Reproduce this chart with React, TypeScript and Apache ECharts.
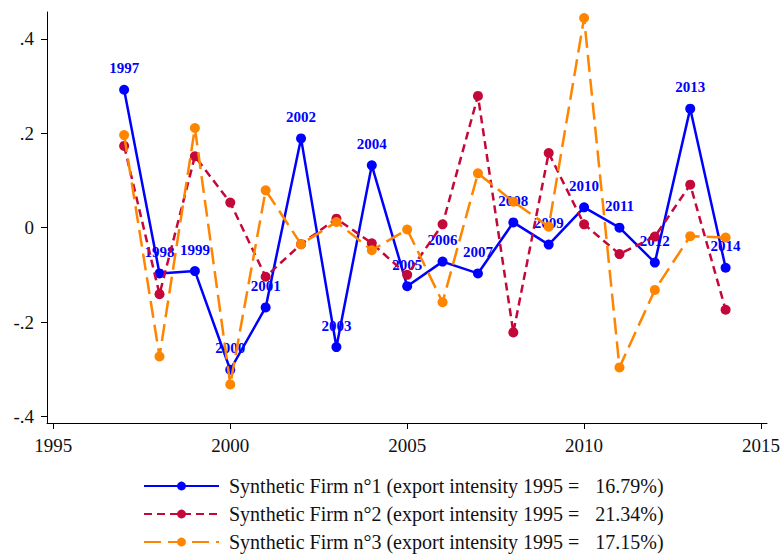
import React, { useEffect, useRef } from 'react';
import * as echarts from 'echarts';

// Yearly growth of export intensity for three synthetic firms
const years = [1997, 1998, 1999, 2000, 2001, 2002, 2003, 2004, 2005, 2006, 2007, 2008, 2009, 2010, 2011, 2012, 2013, 2014];
const firm1 = [0.292, -0.097, -0.092, -0.301, -0.169, 0.189, -0.253, 0.132, -0.124, -0.072, -0.097, 0.011, -0.036, 0.043, 0.0, -0.074, 0.252, -0.085];
const firm2 = [0.173, -0.141, 0.151, 0.053, -0.104, -0.035, 0.019, -0.033, -0.1, 0.007, 0.279, -0.222, 0.158, 0.007, -0.056, -0.019, 0.091, -0.174];
const firm3 = [0.196, -0.273, 0.211, -0.332, 0.079, -0.035, 0.012, -0.048, -0.004, -0.158, 0.115, 0.055, 0.002, 0.444, -0.296, -0.132, -0.018, -0.021];

const firmNames = ['Synthetic Firm n°1', 'Synthetic Firm n°2', 'Synthetic Firm n°3'];
const intensity1995 = ['16.79', '21.34', '17.15'];

const xTicks = [1995, 2000, 2005, 2010, 2015];
const yTicks = [-0.4, -0.2, 0, 0.2, 0.4];

const SERIF = 'Liberation Serif';
const BLUE = '#0000ff';
const CRIMSON = '#c4083a';
const ORANGE = '#ff8400';

function fmtY(v: number): string {
  if (Math.abs(v) < 1e-9) return '0';
  const s = Math.abs(v).toFixed(1).replace(/^0/, '');
  return (v < 0 ? '-' : '') + s;
}

export default function App() {
  const ref = useRef<HTMLDivElement>(null);

  useEffect(() => {
    if (!ref.current) return;
    const chart = echarts.init(ref.current, null, { renderer: 'svg' });

    const pair = (vals: number[]) => years.map((y, i) => [y, vals[i]]);

    chart.setOption({
      animation: false,
      backgroundColor: '#ffffff',
      grid: { left: 47, right: 13, top: 12, bottom: 132 },
      xAxis: {
        type: 'value',
        min: 1994.82,
        max: 2015.17,
        axisLine: { show: true, onZero: false, lineStyle: { color: '#000', width: 1 } },
        axisTick: { show: true, length: 6, customValues: xTicks, lineStyle: { color: '#000' } },
        axisLabel: {
          customValues: xTicks,
          margin: 13,
          color: '#111',
          fontFamily: SERIF,
          fontSize: 19,
          formatter: (v: number) => String(Math.round(v)),
        },
        splitLine: { show: false },
      },
      yAxis: {
        type: 'value',
        min: -0.4138,
        max: 0.4567,
        axisLine: { show: true, onZero: false, lineStyle: { color: '#000', width: 1 } },
        axisTick: { show: true, length: 6, customValues: yTicks, lineStyle: { color: '#000' } },
        axisLabel: {
          customValues: yTicks,
          margin: 13,
          color: '#111',
          fontFamily: SERIF,
          fontSize: 19,
          formatter: (v: number) => fmtY(v),
        },
        splitLine: { show: false },
      },
      legend: {
        orient: 'vertical',
        left: 143,
        top: 476,
        padding: 0,
        itemWidth: 75,
        itemHeight: 11,
        itemGap: 8,
        data: firmNames,
        formatter: (name: string) => {
          const i = firmNames.indexOf(name);
          return `{a|${name} (export intensity 1995 =}{b|${intensity1995[i]}%)}`;
        },
        textStyle: {
          fontFamily: SERIF,
          fontSize: 20,
          color: '#111',
          rich: {
            a: { fontFamily: SERIF, fontSize: 20, color: '#111', padding: [0, 0, 0, 5] },
            b: { fontFamily: SERIF, fontSize: 20, color: '#111', padding: [0, 0, 0, 16] },
          },
        },
      },
      series: [
        {
          name: firmNames[0],
          type: 'line',
          data: pair(firm1),
          symbol: 'circle',
          symbolSize: 10,
          color: BLUE,
          lineStyle: { color: BLUE, width: 2.5, type: 'solid' },
          itemStyle: { color: BLUE },
          z: 2,
          label: {
            show: true,
            position: 'top',
            distance: 9,
            color: BLUE,
            fontFamily: SERIF,
            fontWeight: 'bold',
            fontSize: 15,
            formatter: (p: any) => String(p.value[0]),
          },
        },
        {
          name: firmNames[1],
          type: 'line',
          data: pair(firm2),
          symbol: 'circle',
          symbolSize: 10,
          color: CRIMSON,
          lineStyle: { color: CRIMSON, width: 2.5, type: [8, 5] },
          itemStyle: { color: CRIMSON },
          z: 3,
        },
        {
          name: firmNames[2],
          type: 'line',
          data: pair(firm3),
          symbol: 'circle',
          symbolSize: 10,
          color: ORANGE,
          lineStyle: { color: ORANGE, width: 2.5, type: [17, 7] },
          itemStyle: { color: ORANGE },
          z: 4,
        },
      ],
    });

    return () => chart.dispose();
  }, []);

  return (
    <div
      ref={ref}
      style={{ position: 'fixed', left: 0, top: 0, width: 783, height: 555, background: '#fff' }}
    />
  );
}
